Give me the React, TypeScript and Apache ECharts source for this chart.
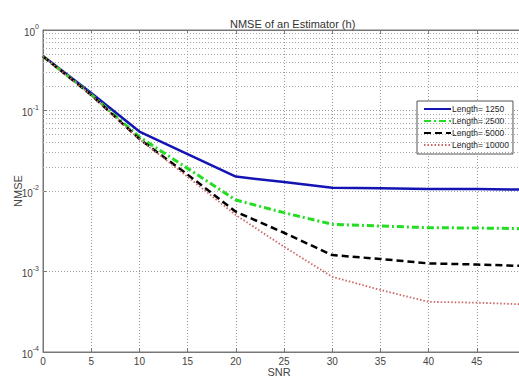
import React, { useEffect, useRef } from "react";
import * as echarts from "echarts";

const snr = [0, 5, 10, 15, 20, 25, 30, 35, 40, 45, 50];
const len1250 = [0.475, 0.165, 0.0548, 0.0288, 0.0151, 0.0129, 0.011, 0.0108, 0.0106, 0.0106, 0.0104];
const len2500 = [0.47, 0.158, 0.0469, 0.0191, 0.00773, 0.00538, 0.00386, 0.00367, 0.0035, 0.00347, 0.0034];
const len5000 = [0.47, 0.156, 0.0443, 0.016, 0.00553, 0.00303, 0.0016, 0.00143, 0.00126, 0.00122, 0.00117];
const len10000 = [0.47, 0.155, 0.044, 0.015, 0.00503, 0.00203, 0.00086, 0.00059, 0.00042, 0.00041, 0.00039];
const seriesNames = ["Length= 1250", "Length= 2500", "Length= 5000", "Length= 10000"];
const minorGridValues = [
  2e-4, 3e-4, 4e-4, 5e-4, 6e-4, 7e-4, 8e-4, 9e-4,
  2e-3, 3e-3, 4e-3, 5e-3, 6e-3, 7e-3, 8e-3, 9e-3,
  2e-2, 3e-2, 4e-2, 5e-2, 6e-2, 7e-2, 8e-2, 9e-2,
  2e-1, 3e-1, 4e-1, 5e-1, 6e-1, 7e-1, 8e-1, 9e-1,
];

export default function App() {
  const ref = useRef<HTMLDivElement>(null);
  useEffect(() => {
    const chart = echarts.init(ref.current!, null, { renderer: "svg" });
    const font = "Liberation Sans, Arial, sans-serif";
    const gridDot = { type: [1, 2] as any, color: "#9a9a9a", width: 1 };
    const mk = (vals: number[]) => snr.map((x, i) => [x, vals[i]]);
    chart.setOption({
      animation: false,
      backgroundColor: "#ffffff",
      title: {
        text: "NMSE of an Estimator (h)",
        left: 225,
        top: 13,
        textStyle: { fontFamily: font, fontSize: 11, fontWeight: "normal", color: "#333" },
      },
      legend: {
        orient: "vertical",
        left: 417,
        top: 101,
        backgroundColor: "#ffffff",
        borderColor: "#555",
        borderWidth: 1,
        borderRadius: 0,
        padding: [3, 4, 4, 6],
        itemGap: 2,
        itemWidth: 27,
        itemHeight: 10,
        itemStyle: { opacity: 0 },
        textStyle: { fontFamily: font, fontSize: 8.5, color: "#222", padding: [0, 0, 0, -4], lineHeight: 10 },
        data: seriesNames,
      },
      grid: {
        left: 43,
        top: 30,
        right: -6,
        bottom: 25,
        outerBoundsMode: "none",
        containLabel: false,
        show: true,
        borderColor: "#777",
        borderWidth: 1,
        backgroundColor: "#fff",
      },
      xAxis: [
        {
          type: "value",
          min: 0,
          max: 50,
          interval: 5,
          name: "{a|SNR}{b|dB}",
          nameLocation: "middle",
          nameGap: 14.5,
          nameMoveOverlap: false,
          nameTextStyle: {
            rich: {
              a: { fontFamily: font, fontSize: 11, color: "#444", verticalAlign: "top", lineHeight: 14 },
              b: { fontFamily: font, fontSize: 8, color: "#444", verticalAlign: "bottom", lineHeight: 14, padding: [0, 0, -6, 0] },
            },
          },
          axisLine: { lineStyle: { color: "#777" } },
          axisTick: { inside: true, length: 4, lineStyle: { color: "#777" } },
          axisLabel: { fontFamily: font, fontSize: 10, color: "#444", margin: 4, showMaxLabel: false },
          splitLine: { show: true, lineStyle: gridDot },
        },
        {
          type: "value",
          position: "top",
          min: 0,
          max: 50,
          interval: 5,
          axisLine: { lineStyle: { color: "#777" } },
          axisTick: { inside: true, length: 4, lineStyle: { color: "#777" } },
          axisLabel: { show: false },
          splitLine: { show: false },
        },
      ],
      yAxis: {
        type: "log",
        logBase: 10,
        min: 1e-4,
        max: 1,
        name: "NMSE",
        nameLocation: "middle",
        nameGap: 20,
        nameMoveOverlap: false,
        nameTextStyle: { fontFamily: font, fontSize: 11, color: "#444" },
        axisLine: { lineStyle: { color: "#777" } },
        axisTick: { inside: true, length: 4, lineStyle: { color: "#777" } },
        axisLabel: {
          fontFamily: font,
          margin: 4,
          formatter: (v: number) => `{b|10}{s|${Math.round(Math.log10(v))}}`,
          rich: {
            b: { fontFamily: font, fontSize: 10, color: "#444", verticalAlign: "bottom", lineHeight: 14 },
            s: { fontFamily: font, fontSize: 7, color: "#444", verticalAlign: "top", lineHeight: 14 },
          },
        },
        splitLine: { show: true, lineStyle: gridDot },
      },
      series: [
        {
          type: "line",
          name: "_minor",
          data: [],
          z: 1,
          silent: true,
          markLine: {
            silent: true,
            symbol: ["none", "none"],
            label: { show: false },
            lineStyle: { type: [1, 2], color: "#a8a8a8", width: 1 },
            data: minorGridValues.map((v) => ({ yAxis: v })),
          },
        },
        {
          type: "line",
          name: seriesNames[0],
          data: mk(len1250),
          symbol: "none",
          z: 5,
          lineStyle: { color: "#1414b4", width: 2.5, type: "solid" },
          itemStyle: { color: "#1414b4" },
        },
        {
          type: "line",
          name: seriesNames[1],
          data: mk(len2500),
          symbol: "none",
          z: 5,
          lineStyle: { color: "#22dd22", width: 3, type: [7, 3, 2, 3] },
          itemStyle: { color: "#22dd22" },
        },
        {
          type: "line",
          name: seriesNames[2],
          data: mk(len5000),
          symbol: "none",
          z: 5,
          lineStyle: { color: "#000000", width: 2.5, type: [7, 4] },
          itemStyle: { color: "#000000" },
        },
        {
          type: "line",
          name: seriesNames[3],
          data: mk(len10000),
          symbol: "none",
          z: 5,
          lineStyle: { color: "#cc6666", width: 1.8, type: [1.5, 2] },
          itemStyle: { color: "#cc6666" },
        },
      ],
    });
    return () => chart.dispose();
  }, []);
  return <div ref={ref} style={{ position: "fixed", left: 0, top: 0, width: 519, height: 377 }} />;
}
